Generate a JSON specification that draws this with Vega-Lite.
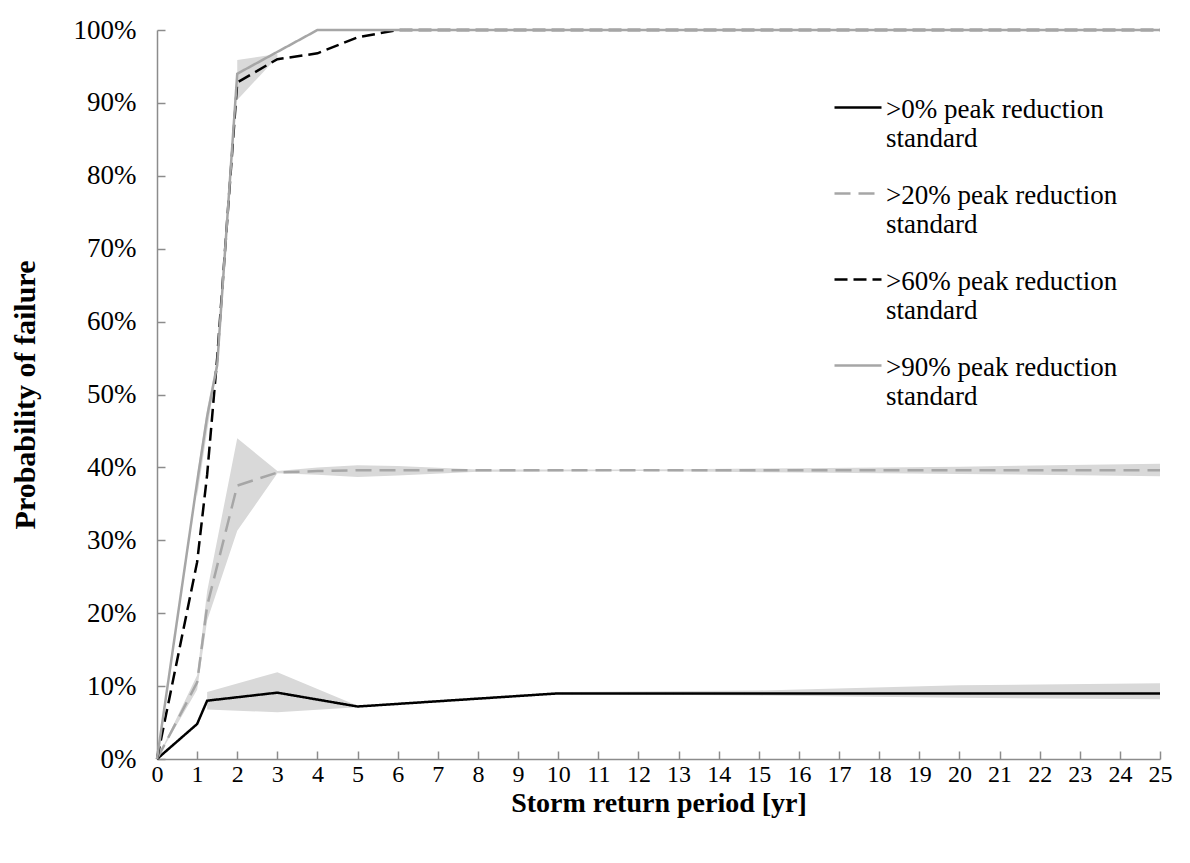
{
  "$schema": "https://vega.github.io/schema/vega-lite/v6.json",
  "width": 1003,
  "height": 729,
  "autosize": {"type": "none"},
  "padding": {"left": 157, "top": 30, "right": 30, "bottom": 104},
  "background": "#ffffff",
  "config": {
    "view": {"stroke": null},
    "axis": {
      "domainColor": "#8c8c8c", "domainWidth": 1.5,
      "tickColor": "#8c8c8c", "tickWidth": 1.5, "tickSize": -8,
      "grid": false,
      "labelFont": "Liberation Serif, Times New Roman, serif", "labelColor": "#000000",
      "titleFont": "Liberation Serif, Times New Roman, serif", "titleFontWeight": "bold", "titleColor": "#000000"
    }
  },
  "datasets": {
    "lines": [
      {"series": ">0%", "x": 0, "y": 0},
      {"series": ">0%", "x": 1, "y": 0.048},
      {"series": ">0%", "x": 1.25, "y": 0.08},
      {"series": ">0%", "x": 3, "y": 0.091},
      {"series": ">0%", "x": 5, "y": 0.072},
      {"series": ">0%", "x": 10, "y": 0.09},
      {"series": ">0%", "x": 25, "y": 0.09},
      {"series": ">20%", "x": 0, "y": 0},
      {"series": ">20%", "x": 1, "y": 0.105},
      {"series": ">20%", "x": 1.25, "y": 0.21},
      {"series": ">20%", "x": 2, "y": 0.375},
      {"series": ">20%", "x": 3, "y": 0.393},
      {"series": ">20%", "x": 4, "y": 0.395},
      {"series": ">20%", "x": 5, "y": 0.396},
      {"series": ">20%", "x": 25, "y": 0.396},
      {"series": ">60%", "x": 0, "y": 0},
      {"series": ">60%", "x": 1, "y": 0.27},
      {"series": ">60%", "x": 1.25, "y": 0.39},
      {"series": ">60%", "x": 1.5, "y": 0.55},
      {"series": ">60%", "x": 2, "y": 0.928},
      {"series": ">60%", "x": 3, "y": 0.96},
      {"series": ">60%", "x": 4, "y": 0.968},
      {"series": ">60%", "x": 5, "y": 0.99},
      {"series": ">60%", "x": 6, "y": 1.0},
      {"series": ">60%", "x": 25, "y": 1.0},
      {"series": ">90%", "x": 0, "y": 0},
      {"series": ">90%", "x": 1, "y": 0.38},
      {"series": ">90%", "x": 1.25, "y": 0.47},
      {"series": ">90%", "x": 1.5, "y": 0.54},
      {"series": ">90%", "x": 2, "y": 0.94},
      {"series": ">90%", "x": 3, "y": 0.97},
      {"series": ">90%", "x": 4, "y": 1.0},
      {"series": ">90%", "x": 25, "y": 1.0}
    ],
    "bands": [
      {"band": "b0", "x": 1.25, "lo": 0.068, "hi": 0.092},
      {"band": "b0", "x": 3, "lo": 0.064, "hi": 0.119},
      {"band": "b0", "x": 5, "lo": 0.071, "hi": 0.073},
      {"band": "b0", "x": 10, "lo": 0.089, "hi": 0.092},
      {"band": "b0", "x": 15, "lo": 0.087, "hi": 0.094},
      {"band": "b0", "x": 20, "lo": 0.084, "hi": 0.101},
      {"band": "b0", "x": 25, "lo": 0.082, "hi": 0.104},
      {"band": "b20", "x": 0, "lo": 0, "hi": 0},
      {"band": "b20", "x": 1, "lo": 0.095, "hi": 0.115},
      {"band": "b20", "x": 1.25, "lo": 0.19, "hi": 0.23},
      {"band": "b20", "x": 2, "lo": 0.313, "hi": 0.44},
      {"band": "b20", "x": 3, "lo": 0.392, "hi": 0.395},
      {"band": "b20", "x": 4, "lo": 0.39, "hi": 0.4},
      {"band": "b20", "x": 5, "lo": 0.387, "hi": 0.403},
      {"band": "b20", "x": 6, "lo": 0.389, "hi": 0.402},
      {"band": "b20", "x": 8, "lo": 0.394, "hi": 0.397},
      {"band": "b20", "x": 12, "lo": 0.395, "hi": 0.397},
      {"band": "b20", "x": 16, "lo": 0.393, "hi": 0.399},
      {"band": "b20", "x": 20, "lo": 0.391, "hi": 0.401},
      {"band": "b20", "x": 25, "lo": 0.388, "hi": 0.405},
      {"band": "b90", "x": 1, "lo": 0.36, "hi": 0.39},
      {"band": "b90", "x": 1.25, "lo": 0.45, "hi": 0.48},
      {"band": "b90", "x": 1.5, "lo": 0.54, "hi": 0.55},
      {"band": "b60", "x": 2, "lo": 0.904, "hi": 0.959},
      {"band": "b60", "x": 3, "lo": 0.963, "hi": 0.967}
    ]
  },
  "layer": [
    {
      "data": {"name": "bands"},
      "mark": {"type": "area", "color": "#d9d9d9", "opacity": 1},
      "encoding": {
        "x": {"field": "x", "type": "quantitative"},
        "y": {"field": "lo", "type": "quantitative"},
        "y2": {"field": "hi"},
        "detail": {"field": "band"}
      }
    },
    {
      "data": {"name": "lines"},
      "mark": {"type": "line", "strokeWidth": 2.5},
      "encoding": {
        "x": {
          "field": "x", "type": "quantitative",
          "scale": {"domain": [0, 25], "nice": false, "zero": true},
          "axis": {
            "values": [0,1,2,3,4,5,6,7,8,9,10,11,12,13,14,15,16,17,18,19,20,21,22,23,24,25],
            "format": "d",
            "labelFontSize": 24, "labelPadding": 11, "labelFlush": false,
            "title": "Storm return period [yr]", "titleFontSize": 28, "titlePadding": 3
          }
        },
        "y": {
          "field": "y", "type": "quantitative",
          "scale": {"domain": [0, 1], "nice": false},
          "axis": {
            "values": [0,0.1,0.2,0.3,0.4,0.5,0.6,0.7,0.8,0.9,1],
            "format": ".0%",
            "labelFontSize": 27, "labelPadding": 29, "labelFlush": false,
            "title": "Probability of failure", "titleFontSize": 30, "titlePadding": 33
          }
        },
        "color": {
          "field": "series", "type": "nominal",
          "scale": {"domain": [">0%", ">20%", ">60%", ">90%"], "range": ["#000000", "#a6a6a6", "#000000", "#a6a6a6"]},
          "legend": {
            "orient": "none", "legendX": 676, "legendY": 42,
            "title": null, "padding": 0,
            "symbolType": "M-1,0.45h2", "symbolSize": 2209, "symbolStrokeWidth": 2.5,
            "labelFont": "Liberation Serif, Times New Roman, serif", "labelFontSize": 27, "labelColor": "#000000",
            "labelBaseline": "top", "labelOffset": 3, "labelLimit": 400,
            "rowPadding": 6,
            "labelExpr": "[datum.label + ' peak reduction', 'standard']"
          }
        },
        "strokeDash": {
          "field": "series", "type": "nominal",
          "scale": {"domain": [">0%", ">20%", ">60%", ">90%"], "range": [[1, 0], [16, 8], [13, 6], [1, 0]]},
          "legend": null
        }
      }
    }
  ]
}
